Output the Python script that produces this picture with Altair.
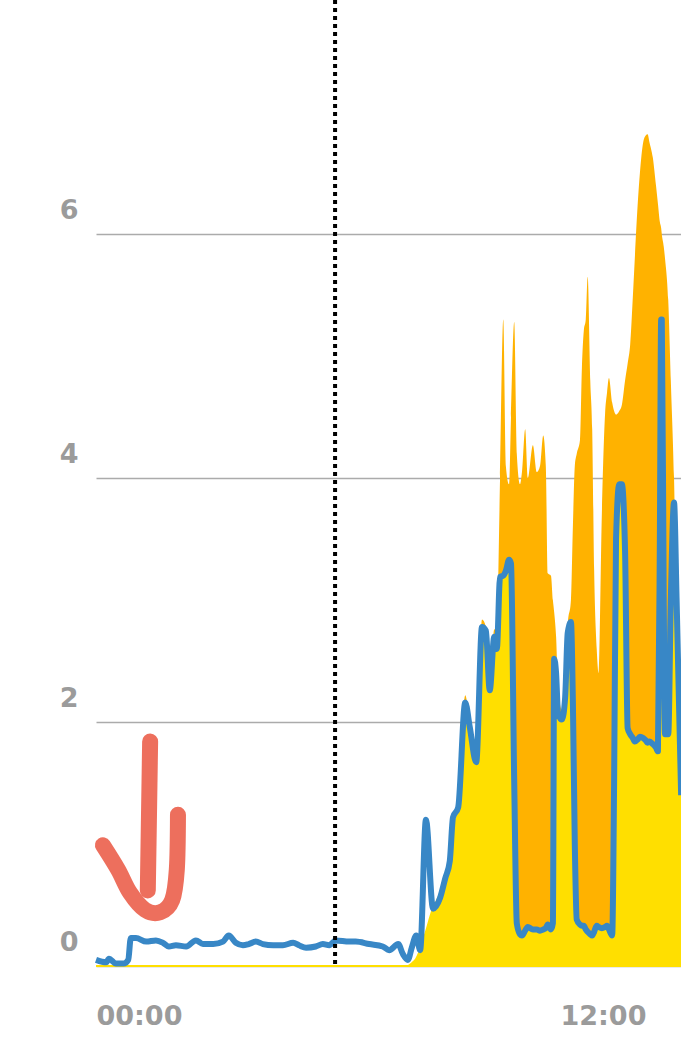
import altair as alt
import pandas as pd

# ---- data ----
times = [
    "00:00", "00:16", "00:20", "00:31", "00:43", "00:50", "00:54", "01:02", "01:18", "01:33",
    "01:44", "01:53", "02:04", "02:20", "02:35", "02:46", "03:02", "03:17", "03:26", "03:37",
    "03:48", "03:57", "04:08", "04:19", "04:35", "04:50", "05:06", "05:15", "05:26", "05:41",
    "05:52", "06:02", "06:12", "06:33", "06:43", "07:04", "07:25", "07:35", "07:49", "07:56",
    "08:04", "08:10", "08:17", "08:23", "08:32", "08:43", "08:54", "09:02", "09:09", "09:14",
    "09:22", "09:33", "09:40", "09:50", "09:59", "10:05", "10:11", "10:18", "10:22", "10:27",
    "10:32", "10:36", "10:41", "10:44", "10:49", "10:53", "10:58", "11:01", "11:06", "11:10",
    "11:18", "11:24", "11:29", "11:34", "11:38", "11:41", "11:46", "11:49", "11:51", "11:54",
    "11:57", "12:03", "12:08", "12:12", "12:17", "12:20", "12:23", "12:26", "12:31", "12:34",
    "12:37", "12:40", "12:43", "12:47", "12:50", "12:53", "12:57", "13:00", "13:05", "13:10",
    "13:13", "13:16", "13:21", "13:24", "13:27", "13:32", "13:36", "13:41", "13:45", "13:49",
    "13:53", "13:56", "14:01", "14:04", "14:09", "14:13", "14:16", "14:19", "14:24", "14:29",
    "14:32", "14:35", "14:37", "14:38", "14:41", "14:43", "14:48", "14:52", "14:57", "15:01",
    "15:08",
]
consumption = [
    0.05, 0.03, 0.06, 0.02, 0.02, 0.05, 0.23, 0.23, 0.20, 0.21,
    0.19, 0.16, 0.17, 0.16, 0.21, 0.18, 0.18, 0.20, 0.25, 0.19,
    0.17, 0.18, 0.20, 0.18, 0.17, 0.17, 0.19, 0.17, 0.15, 0.16,
    0.18, 0.17, 0.21, 0.20, 0.20, 0.18, 0.16, 0.13, 0.18, 0.10,
    0.05, 0.15, 0.25, 0.13, 1.20, 0.47, 0.56, 0.72, 0.86, 1.22,
    1.30, 2.16, 1.96, 1.67, 2.78, 2.75, 2.26, 2.70, 2.60, 3.19,
    3.20, 3.24, 3.33, 3.30, 1.50, 0.35, 0.26, 0.25, 0.29, 0.32,
    0.30, 0.30, 0.29, 0.30, 0.31, 0.34, 0.30, 0.35, 2.52, 2.40,
    2.07, 2.02, 2.20, 2.73, 2.82, 2.18, 1.00, 0.38, 0.34, 0.33,
    0.33, 0.30, 0.28, 0.26, 0.25, 0.28, 0.33, 0.32, 0.31, 0.32,
    0.33, 0.30, 0.25, 1.50, 3.50, 3.95, 3.95, 3.40, 1.95, 1.90,
    1.87, 1.84, 1.86, 1.88, 1.87, 1.85, 1.83, 1.84, 1.82, 1.79,
    1.76, 3.50, 5.30, 5.30, 3.00, 1.90, 1.90, 3.00, 3.80, 3.00,
    1.40,
]
production = [
    0, 0, 0, 0, 0, 0, 0, 0, 0, 0,
    0, 0, 0, 0, 0, 0, 0, 0, 0, 0,
    0, 0, 0, 0, 0, 0, 0, 0, 0, 0,
    0, 0, 0, 0, 0, 0, 0, 0, 0, 0,
    0, 0.02, 0.06, 0.15, 0.28, 0.48, 0.62, 0.75, 0.88, 1.08,
    1.32, 2.22, 1.98, 1.68, 2.84, 2.78, 2.28, 2.76, 2.75, 4.00,
    5.30, 4.10, 3.95, 4.50, 5.28, 4.20, 3.95, 4.05, 4.40, 4.00,
    4.27, 4.05, 4.10, 4.35, 4.10, 3.22, 3.20, 3.00, 2.90, 2.70,
    2.30, 2.10, 2.30, 2.80, 3.00, 3.60, 4.10, 4.20, 4.31, 4.90,
    5.21, 5.30, 5.65, 4.80, 4.40, 3.25, 2.60, 2.40, 3.71, 4.53,
    4.70, 4.82, 4.62, 4.55, 4.52, 4.55, 4.60, 4.80, 4.94, 5.10,
    5.48, 5.79, 6.28, 6.50, 6.75, 6.81, 6.82, 6.75, 6.63, 6.40,
    6.25, 6.10, 6.05, 6.00, 5.90, 5.80, 5.46, 4.80, 4.00, 2.90,
    1.40,
]
marker_time = "06:11"
x_tick_hours = [0, 12]
y_tick_values = [0, 2, 4, 6]

# hand-drawn red arrow annotation (in chart units: hours, value)
arrow_stem_h = [1.40, 1.34]
arrow_stem_v = [1.84, 0.62]
arrow_hook_h = [0.18, 0.57, 0.88, 1.27, 1.66, 1.97, 2.09, 2.12]
arrow_hook_v = [0.99, 0.79, 0.60, 0.46, 0.44, 0.54, 0.79, 1.24]


def to_hours(t):
    h, m = t.split(":")
    return int(h) + int(m) / 60


df = pd.DataFrame({
    "hour": [to_hours(t) for t in times],
    "consumption": consumption,
    "production": production,
})
rule_df = pd.DataFrame({"hour": [to_hours(marker_time)]})
stem_df = pd.DataFrame({"hour": arrow_stem_h, "v": arrow_stem_v, "i": range(len(arrow_stem_h))})
hook_df = pd.DataFrame({"hour": arrow_hook_h, "v": arrow_hook_v, "i": range(len(arrow_hook_h))})

X_MAX = 15.13
Y_MAX = 7.92
FONT = "DejaVu Sans"
LABEL_COLOR = "#9b9b9b"

x_scale = alt.Scale(domain=[0, X_MAX], nice=False, zero=False)
y_scale = alt.Scale(domain=[0, Y_MAX], nice=False)

x_axis = alt.Axis(
    values=x_tick_hours,
    labelExpr="(datum.value < 10 ? '0' : '') + datum.value + ':00'",
    title=None, grid=False, ticks=False, tickSize=0, domain=False,
    labelAlign="left", labelBaseline="alphabetic", labelPadding=58,
    labelFont=FONT, labelFontSize=27, labelFontWeight="bold", labelColor=LABEL_COLOR,
)
y_axis = alt.Axis(
    values=y_tick_values, format="d", title=None, ticks=False, tickSize=0, domain=False,
    grid=True, gridColor="#ababab", gridWidth=1.5,
    labelAlign="right", labelBaseline="alphabetic", labelOffset=-16, labelPadding=18,
    labelFont=FONT, labelFontSize=27, labelFontWeight="bold", labelColor=LABEL_COLOR,
)

base = alt.Chart(df)

orange = base.mark_area(color="#ffb200", interpolate="monotone").encode(
    x=alt.X("hour:Q", scale=x_scale, axis=x_axis),
    y=alt.Y("production:Q", scale=y_scale, axis=y_axis),
)
yellow = base.transform_calculate(
    selfuse="min(datum.consumption, datum.production)"
).mark_area(color="#ffdf00", stroke="#ffdf00", strokeWidth=2, interpolate="monotone").encode(
    x=alt.X("hour:Q", scale=x_scale),
    y=alt.Y("selfuse:Q", scale=y_scale),
)
blue = base.mark_line(color="#3887c6", strokeWidth=6, strokeJoin="round", interpolate="monotone").encode(
    x=alt.X("hour:Q", scale=x_scale),
    y=alt.Y("consumption:Q", scale=y_scale),
)
rule = alt.Chart(rule_df).mark_rule(color="#000000", strokeWidth=4, strokeDash=[4, 4]).encode(
    x=alt.X("hour:Q", scale=x_scale),
)
stem = alt.Chart(stem_df).mark_line(
    color="#e8472f", strokeWidth=16, opacity=0.78, strokeCap="round"
).encode(
    x=alt.X("hour:Q", scale=x_scale),
    y=alt.Y("v:Q", scale=y_scale),
    order="i:Q",
)
hook = alt.Chart(hook_df).mark_line(
    color="#e8472f", strokeWidth=16, opacity=0.78, strokeCap="round", interpolate="cardinal"
).encode(
    x=alt.X("hour:Q", scale=x_scale),
    y=alt.Y("v:Q", scale=y_scale),
    order="i:Q",
)

chart = alt.layer(orange, yellow, blue, rule, stem, hook).properties(
    width=585, height=966,
    autosize=alt.AutoSizeParams(type="none"),
    padding={"left": 96, "top": 0, "right": 0, "bottom": 72},
    background="white",
).configure_view(stroke=None)

chart.save("out.html", embed_options={"renderer": "svg", "actions": False})
